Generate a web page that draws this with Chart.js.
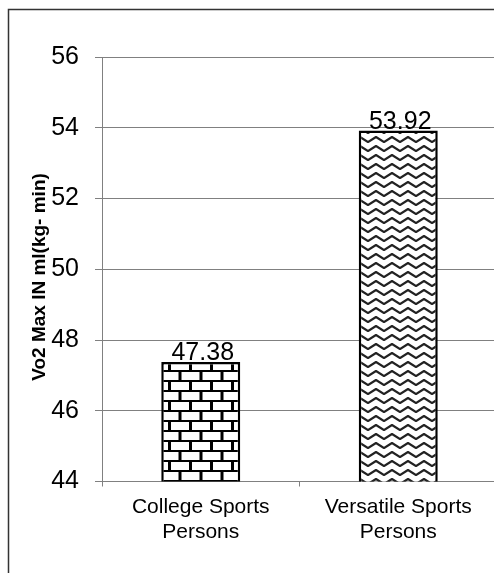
<!DOCTYPE html>
<html>
<head>
<meta charset="utf-8">
<script src="https://cdn.jsdelivr.net/npm/chart.js@4"></script>
<style>
  html, body { margin: 0; padding: 0; background: #fff; overflow: hidden; }
  #vo2Chart { display: block; }
</style>
</head>
<body>
<canvas id="vo2Chart" width="497" height="573" style="width:497px;height:573px"></canvas>
<script>
const categories = [["College Sports", "Persons"], ["Versatile Sports", "Persons"]];
const vo2Max = [47.38, 53.92];
const yTicks = [44, 46, 48, 50, 52, 54, 56];
const yTitle = "Vo2 Max IN ml(kg- min)";

const FONT = "'Liberation Sans', Arial, sans-serif";

// brick fill for the first bar
function brickPattern() {
  const c = document.createElement('canvas');
  c.width = 21; c.height = 20;
  const g = c.getContext('2d');
  g.fillStyle = '#fff';
  g.fillRect(0, 0, 21, 20);
  g.strokeStyle = '#000';
  g.lineWidth = 2;
  g.beginPath();
  g.moveTo(0, 1); g.lineTo(21, 1);
  g.moveTo(0, 11); g.lineTo(21, 11);
  g.stroke();
  g.lineWidth = 3;
  g.beginPath();
  g.moveTo(1.5, 0); g.lineTo(1.5, 11);
  g.moveTo(12, 11); g.lineTo(12, 20);
  g.stroke();
  return g.createPattern(c, 'repeat');
}

// wavy fill for the second bar
function zigzagPattern() {
  const c = document.createElement('canvas');
  c.width = 16; c.height = 9;
  const g = c.getContext('2d');
  g.fillStyle = '#fff';
  g.fillRect(0, 0, 16, 9);
  g.strokeStyle = '#222';
  g.lineWidth = 2.1;
  g.lineJoin = 'round';
  g.beginPath();
  g.moveTo(-4, 4.5); g.lineTo(0, 7); g.lineTo(8, 2); g.lineTo(16, 7); g.lineTo(20, 4.5);
  g.stroke();
  return g.createPattern(c, 'repeat');
}

const framePlugin = {
  id: 'frame',
  beforeDraw(chart) {
    const ctx = chart.ctx;
    ctx.save();
    ctx.strokeStyle = '#333';
    ctx.lineWidth = 1.5;
    ctx.beginPath();
    ctx.moveTo(8.5, 573);
    ctx.lineTo(8.5, 9.5);
    ctx.lineTo(497, 9.5);
    ctx.stroke();
    // y axis title
    ctx.translate(39.5, 277);
    ctx.rotate(-Math.PI / 2);
    ctx.fillStyle = '#000';
    ctx.font = 'bold 19px ' + FONT;
    ctx.textAlign = 'center';
    ctx.textBaseline = 'middle';
    ctx.fillText(yTitle, 0, 0);
    ctx.restore();
  }
};

const valueLabels = {
  id: 'valueLabels',
  afterDatasetsDraw(chart) {
    const ctx = chart.ctx;
    const meta = chart.getDatasetMeta(0);
    ctx.save();
    ctx.fillStyle = '#000';
    ctx.font = '25px ' + FONT;
    ctx.textAlign = 'center';
    ctx.textBaseline = 'alphabetic';
    meta.data.forEach((bar, i) => {
      ctx.fillText(vo2Max[i].toFixed(2), bar.x + 2, bar.y - 2);
    });
    ctx.restore();
  }
};

new Chart(document.getElementById('vo2Chart'), {
  type: 'bar',
  data: {
    labels: categories,
    datasets: [{
      data: vo2Max,
      backgroundColor: [brickPattern(), zigzagPattern()],
      borderColor: '#000',
      borderWidth: 2.5,
      borderSkipped: false,
      barPercentage: 0.4,
      categoryPercentage: 1
    }]
  },
  options: {
    responsive: false,
    animation: false,
    devicePixelRatio: 1,
    layout: { padding: { top: 57, right: 0, bottom: 0, left: 0 } },
    plugins: {
      legend: { display: false },
      tooltip: { enabled: false }
    },
    scales: {
      x: {
        offset: true,
        grid: { display: true, drawOnChartArea: false, offset: true, tickLength: 5, color: '#808080' },
        border: { color: '#808080' },
        ticks: {
          color: '#000',
          padding: 9,
          maxRotation: 0,
          font: { size: 21, family: FONT, lineHeight: 1.15 }
        },
        afterFit(scale) { scale.height = 91.5; }
      },
      y: {
        min: yTicks[0],
        max: yTicks[yTicks.length - 1],
        afterBuildTicks(scale) { scale.ticks = yTicks.map(v => ({ value: v })); },
        grid: { color: '#808080', tickLength: 7 },
        border: { color: '#808080' },
        ticks: {
          color: '#000',
          padding: 16,
          font: { size: 25, family: FONT }
        },
        afterFit(scale) { scale.width = 102; }
      }
    }
  },
  plugins: [framePlugin, valueLabels]
});
</script>
</body>
</html>
